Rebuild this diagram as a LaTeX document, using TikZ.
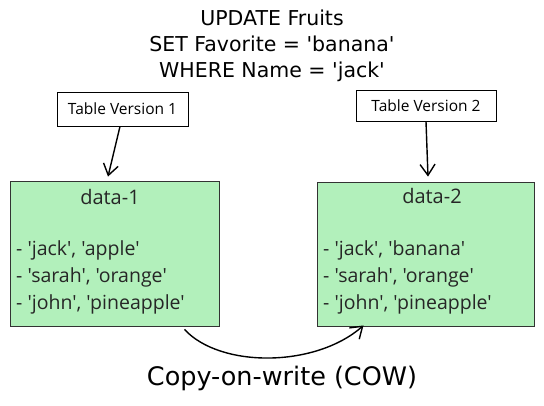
\documentclass[tikz,border=0pt]{standalone}
\usepackage{fontspec}
\setmainfont{Open Sans}[Ligatures=TeXOff]
\newfontfamily\handfont{DejaVu Sans}[Ligatures=TeXOff]
\usetikzlibrary{arrows.meta,calc}
\definecolor{boxgreen}{HTML}{B2F0BB}
\tikzset{
  lbl/.style={draw=black, line width=0.8pt, fill=white, inner sep=0pt, font=\fontsize{15.5}{18}\selectfont},
  databox/.style={draw=black!80, line width=0.9pt, fill=boxgreen, inner sep=0pt},
  dtitle/.style={font=\fontsize{20}{22}\selectfont, text=black!85},
  dlist/.style={font=\fontsize{19.5}{27}\selectfont, align=left, anchor=north west, inner sep=0pt, text=black!85},
  arr/.style={line width=1.4pt, -{Straight Barb[length=11pt,width=15pt,line width=1.4pt]}},
}
\begin{document}
\begin{tikzpicture}[x=1pt,y=-1pt]
\useasboundingbox (0,0) rectangle (544,405);
\node[align=center, font=\handfont\fontsize{20.5}{26}\selectfont] (title) at (272,46)
  {UPDATE Fruits\\SET Favorite = 'banana'\\WHERE Name = 'jack'};
\node[lbl, minimum width=131pt, minimum height=34pt] (tv1) at (122.5,109) {Table Version 1};
\node[lbl, minimum width=140pt, minimum height=31pt] (tv2) at (426,105.5) {Table Version 2};
\node[databox, minimum width=209pt, minimum height=145pt] (d1) at (114.5,253.5) {};
\node[databox, minimum width=217pt, minimum height=144pt] (d2) at (425.5,254) {};
\node[dtitle] (d1t) at (110,197) {data-1};
\node[dtitle] (d2t) at (432,196) {data-2};
\node[dlist] (d1l) at (16,240) {- 'jack', 'apple'\\- 'sarah', 'orange'\\- 'john', 'pineapple'};
\node[dlist] (d2l) at (323,240) {- 'jack', 'banana'\\- 'sarah', 'orange'\\- 'john', 'pineapple'};
\draw[arr] ($(tv1.south)+(-2.5,0)$) -- ($(d1.north)+(-6.5,-4)$);
\draw[arr] ($(tv2.south)+(0,0)$) -- ($(d2.north)+(2.5,-5)$);
\draw[arr] ($(d1.south)+(70,3)$) .. controls (220,368) and (315,368) .. ($(d2.south)+(-62,-1)$);
\node[font=\handfont\fontsize{25.5}{30}\selectfont] (cow) at (282,378) {Copy-on-write (COW)};
\end{tikzpicture}
\end{document}
